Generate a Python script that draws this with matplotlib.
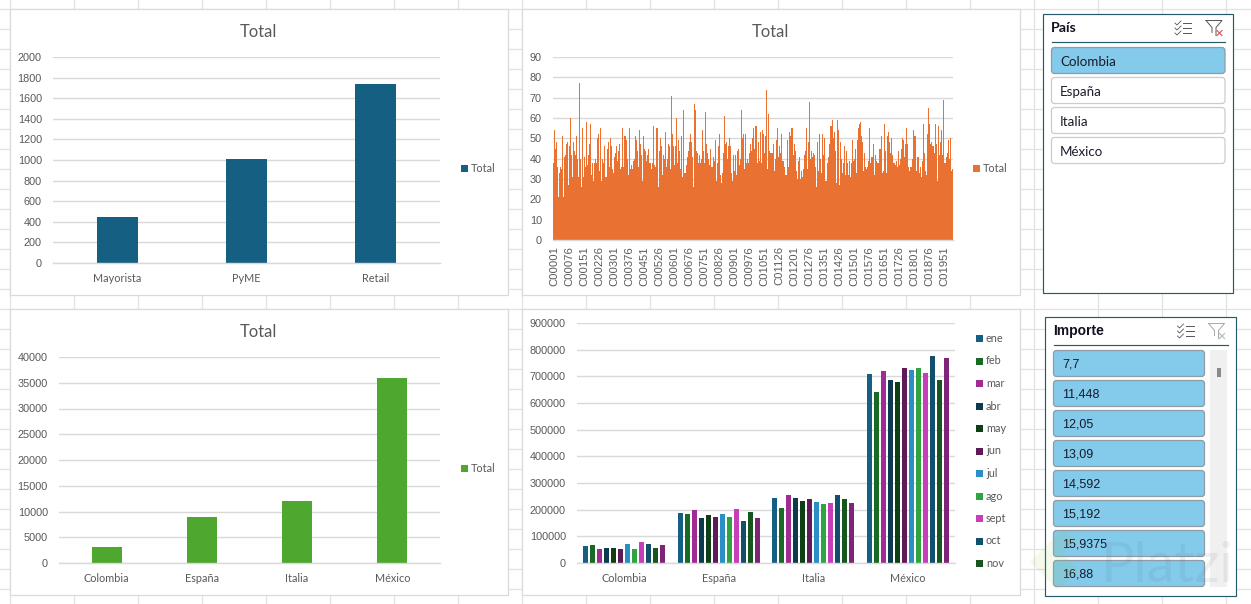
import matplotlib
matplotlib.use('Agg')
import matplotlib.pyplot as plt
from matplotlib.patches import Rectangle, FancyBboxPatch, Polygon
import numpy as np

W, H = 1251, 604

# chart data
segmentos = ['Mayorista', 'PyME', 'Retail']
total_segmento = [450, 1010, 1740]

paises = ['Colombia', 'España', 'Italia', 'México']
total_pais = [3170, 9000, 12100, 36000]

meses = ['ene', 'feb', 'mar', 'abr', 'may', 'jun', 'jul', 'ago', 'sept', 'oct', 'nov', 'dic']
mes_colombia = [62000, 66000, 54000, 58000, 58000, 51000, 70000, 51000, 77000, 70000, 58000, 66000]
mes_espana = [188000, 185000, 200000, 170000, 181000, 173000, 185000, 173000, 203000, 158000, 192000, 170000]
mes_italia = [244000, 207000, 256000, 244000, 233000, 241000, 229000, 222000, 226000, 256000, 241000, 226000]
mes_mexico = [708000, 641000, 719000, 686000, 678000, 731000, 723000, 731000, 712000, 775000, 686000, 768000]

# one value per pixel column, each column stands for 5 clients
total_cliente = [
    38, 54, 45, 48, 36, 21, 33, 36, 35, 51, 21, 41, 42, 47, 48, 27, 46, 60, 42, 31,
    48, 44, 42, 51, 40, 31, 77, 40, 26, 55, 31, 41, 36, 58, 37, 42, 47, 57, 32, 38,
    29, 38, 40, 38, 50, 52, 34, 55, 29, 40, 38, 46, 31, 31, 45, 48, 36, 50, 46, 35,
    33, 41, 43, 46, 39, 44, 47, 35, 36, 55, 36, 51, 51, 49, 40, 32, 55, 35, 37, 35,
    39, 40, 51, 49, 44, 36, 54, 47, 42, 29, 51, 45, 44, 39, 42, 45, 38, 38, 35, 38,
    56, 37, 36, 55, 55, 26, 44, 50, 46, 32, 42, 40, 53, 36, 40, 47, 46, 35, 71, 52,
    46, 37, 46, 60, 38, 49, 44, 35, 51, 31, 64, 33, 33, 37, 41, 44, 48, 52, 48, 41,
    26, 67, 64, 44, 43, 38, 42, 38, 40, 54, 44, 38, 63, 47, 43, 40, 37, 45, 36, 36,
    41, 39, 49, 29, 38, 46, 52, 32, 28, 33, 43, 61, 47, 48, 40, 46, 50, 46, 33, 29,
    42, 34, 42, 32, 44, 45, 37, 40, 64, 50, 52, 35, 52, 38, 40, 38, 43, 47, 44, 50,
    55, 45, 56, 56, 38, 48, 39, 53, 38, 54, 52, 43, 51, 74, 35, 62, 44, 43, 43, 43,
    47, 34, 40, 49, 55, 41, 46, 43, 52, 39, 39, 36, 32, 32, 49, 36, 53, 51, 55, 55,
    42, 47, 44, 34, 30, 39, 41, 30, 34, 31, 35, 42, 44, 55, 35, 48, 68, 40, 44, 41,
    43, 42, 36, 26, 48, 34, 52, 40, 33, 52, 42, 50, 29, 29, 38, 41, 47, 56, 56, 59,
    50, 53, 44, 28, 59, 54, 27, 48, 40, 33, 38, 46, 32, 44, 38, 32, 39, 31, 38, 49,
    39, 40, 45, 33, 49, 55, 57, 58, 51, 48, 34, 43, 36, 35, 36, 39, 55, 38, 41, 41,
    47, 32, 42, 39, 38, 38, 45, 45, 51, 33, 34, 57, 44, 33, 51, 53, 48, 43, 50, 42,
    38, 38, 37, 39, 36, 44, 37, 40, 45, 50, 49, 41, 47, 55, 47, 36, 34, 36, 36, 40,
    54, 51, 51, 34, 41, 41, 33, 36, 31, 39, 57, 43, 34, 32, 52, 65, 57, 47, 48, 46,
    46, 43, 57, 47, 29, 56, 42, 48, 54, 42, 69, 38, 38, 41, 43, 49, 40, 50, 34, 35,
]
etiquetas_cliente = ['C{:05d}'.format(n) for n in range(1, 1952, 75)]

pais_items = ['Colombia', 'España', 'Italia', 'México']
importe_items = ['7,7', '11,448', '12,05', '13,09', '14,592', '15,192', '15,9375', '16,88']

AZUL = '#156082'
NARANJA = '#E97132'
VERDE = '#4EA72E'
colores_mes = ['#156082', '#196B24', '#A02B93', '#0D3A4F', '#0F4015', '#5F1A58',
               '#2A8FC4', '#2EA540', '#C63EB8', '#124F6C', '#17561F', '#7F2578']
GRIS = '#595959'
REJILLA = '#D9D9D9'
HOJA = '#E2E2E2'
BORDE = '#25596B'
CELESTE = '#83CAEB'

plt.rcParams['font.family'] = ['Lato', 'DejaVu Sans']

fig = plt.figure(figsize=(W / 100, H / 100), dpi=100, facecolor='white')

# whole-figure axes in pixels, y going down, for sheet and slicers
bg = fig.add_axes([0, 0, 1, 1])
bg.set_xlim(0, W)
bg.set_ylim(H, 0)
bg.axis('off')

for x in range(9, W, 64):
    bg.plot([x + 0.5, x + 0.5], [0, H], color=HOJA, lw=0.9, zorder=0)
for y in range(8, H, 20):
    bg.plot([0, W], [y + 0.5, y + 0.5], color=HOJA, lw=0.9, zorder=0)


def panel(x0, y0, x1, y1, titulo=None):
    bg.add_patch(Rectangle((x0, y0), x1 - x0, y1 - y0, fc='white', ec='#DADADA', lw=0.9, zorder=1))
    if titulo:
        bg.text((x0 + x1) / 2 - 1, y0 + 23, titulo, ha='center', va='center', fontsize=11.9, color=GRIS, zorder=5)


def chart_axes(x0, y0, x1, y1):
    ax = fig.add_axes([x0 / W, 1 - y1 / H, (x1 - x0) / W, (y1 - y0) / H])
    ax.patch.set_alpha(0)
    for s in ['top', 'right', 'left']:
        ax.spines[s].set_visible(False)
    ax.spines['bottom'].set_color(REJILLA)
    ax.spines['bottom'].set_linewidth(1.0)
    ax.grid(axis='y', color=REJILLA, lw=1.0)
    ax.set_axisbelow(True)
    ax.tick_params(axis='y', length=0, pad=8, labelsize=7.8, labelcolor=GRIS)
    ax.tick_params(axis='x', length=0, pad=7, labelsize=7.8, labelcolor=GRIS)
    return ax


def leyenda(x, y, texto, color):
    bg.add_patch(Rectangle((x, y - 3.5), 7, 7, fc=color, ec='none', zorder=5))
    bg.text(x + 10, y, texto, ha='left', va='center', fontsize=7.8, color=GRIS, zorder=5)


def fix_y(ax, ticks):
    ax.set_yticks(ticks)
    ax.set_yticklabels([str(t) for t in ticks], family='Liberation Sans')
    ax.set_ylim(ticks[0], ticks[-1])


panel(10, 9, 508, 295, 'Total')
panel(522, 9, 1020, 295, 'Total')
panel(10, 309, 508, 595, 'Total')
panel(522, 309, 1020, 595)

# segmento
ax1 = chart_axes(53, 57, 440, 263)
ax1.bar(segmentos, total_segmento, width=0.318, color=AZUL)
ax1.set_xlim(-0.5, 2.5)
fix_y(ax1, list(range(0, 2001, 200)))
leyenda(461, 168, 'Total', AZUL)

# clientes
ax2 = chart_axes(553, 57, 953, 240)
x_cli = np.arange(len(total_cliente)) * 5
ax2.bar(x_cli, total_cliente, width=5, color=NARANJA, lw=0, align='edge')
ax2.set_xlim(0, 2000)
fix_y(ax2, list(range(0, 91, 10)))
ax2.set_xticks(np.arange(len(etiquetas_cliente)) * 75 + 7)
ax2.set_xticklabels(etiquetas_cliente, rotation=90, family='Liberation Sans', fontsize=8.1)
ax2.tick_params(axis='x', pad=4.5)
leyenda(973, 168, 'Total', NARANJA)

# pais
ax3 = chart_axes(59, 357, 440, 563)
ax3.bar(paises, total_pais, width=0.315, color=VERDE)
ax3.set_xlim(-0.5, 3.5)
fix_y(ax3, list(range(0, 40001, 5000)))
leyenda(461, 468, 'Total', VERDE)

# pais por mes
ax4 = chart_axes(577, 323, 955, 563)
por_mes = np.array([mes_colombia, mes_espana, mes_italia, mes_mexico])
for i, mes in enumerate(meses):
    ax4.bar(np.arange(4) + (i - 5.5) * 0.0741, por_mes[:, i], width=0.056, color=colores_mes[i], label=mes)
ax4.set_xlim(-0.5, 3.5)
ax4.set_xticks(range(4))
ax4.set_xticklabels(paises)
fix_y(ax4, list(range(0, 900001, 100000)))
# the legend is cut off in the original, dic does not fit
for i, mes in enumerate(meses[:11]):
    leyenda(976, 338.5 + i * 22.5, mes, colores_mes[i])


def slicer(x0, y0, x1, y1, titulo, fam, size, activo):
    bg.add_patch(Rectangle((x0, y0), x1 - x0, y1 - y0, fc='white', ec=BORDE, lw=0.85, zorder=1))
    bg.text(x0 + 8.5, y0 + 15, titulo, ha='left', va='center', fontsize=size, fontweight='bold',
            family=fam, color='#111122', zorder=5)
    bg.plot([x0 + 9, x1 - 8], [y0 + 28, y0 + 28], color=BORDE, lw=0.85, zorder=5)
    # checklist icon
    ix = x1 - 58
    for k in range(3):
        yy = y0 + 9.5 + k * 5
        bg.plot([ix, ix + 2, ix + 6], [yy, yy + 2, yy - 2], color='#555555', lw=0.6, zorder=5)
        bg.plot([ix + 8, ix + 16], [yy, yy], color='#555555', lw=0.7, zorder=5)
    # funnel icon
    fx = x1 - 27
    col = '#555555' if activo else '#A8A8A8'
    bg.plot([fx, fx + 16, fx + 10, fx + 10], [y0 + 7, y0 + 7, y0 + 14, y0 + 22], color=col, lw=0.7, zorder=5)
    bg.plot([fx, fx + 6, fx + 6], [y0 + 7, y0 + 14, y0 + 19], color=col, lw=0.7, zorder=5)
    cx = '#E04848' if activo else '#B5B5B5'
    bg.plot([fx + 11, fx + 16], [y0 + 17, y0 + 22], color=cx, lw=0.8, zorder=5)
    bg.plot([fx + 16, fx + 11], [y0 + 17, y0 + 22], color=cx, lw=0.8, zorder=5)


def boton(x0, y0, x1, y1, texto, relleno, borde, fam, size, dy):
    bg.add_patch(FancyBboxPatch((x0 + 2, y0 + 2), x1 - x0 - 4, y1 - y0 - 4, boxstyle='round,pad=2,rounding_size=3',
                                fc=relleno, ec=borde, lw=0.9, zorder=3))
    bg.text(x0 + 8.5, (y0 + y1) / 2 + dy, texto, ha='left', va='center', family=fam, fontsize=size,
            color='#1A1A2A', zorder=5)


slicer(1042.5, 13.5, 1233, 292.5, 'País', 'Lato', 10.2, True)
for i, item in enumerate(pais_items):
    on = item == 'Colombia'
    boton(1051.5, 47.5 + i * 30, 1225, 73.5 + i * 30, item, CELESTE if on else 'white',
          '#8F9BA5' if on else '#CCCCCC', 'Lato', 9.6, 2)

slicer(1044.5, 316.5, 1235.5, 595.5, 'Importe', 'Liberation Sans', 10, False)
for i, item in enumerate(importe_items):
    boton(1053.5, 350.5 + i * 30, 1204.5, 376.5 + i * 30, item, CELESTE, '#8F9BA5', 'Liberation Sans', 9, 1)
bg.add_patch(Rectangle((1210, 350), 17, 237, fc='#F0F0F0', ec='none', zorder=3))
bg.add_patch(Rectangle((1217, 368), 4, 9, fc='#8A8A8A', ec='none', zorder=4))

# Platzi watermark over everything
top = fig.add_axes([0, 0, 1, 1])
top.set_xlim(0, W)
top.set_ylim(H, 0)
top.axis('off')
top.patch.set_alpha(0)
top.text(1101, 567, 'Platzi', ha='left', va='center', fontsize=40, color='#5A6E7A', alpha=0.10)
top.add_patch(Polygon([[1062, 530], [1030, 562], [1058, 590], [1078, 570], [1062, 553], [1078, 540]],
                      closed=True, fc='#98C93C', ec='none', alpha=0.10))

fig.savefig('out.png', dpi=100)
